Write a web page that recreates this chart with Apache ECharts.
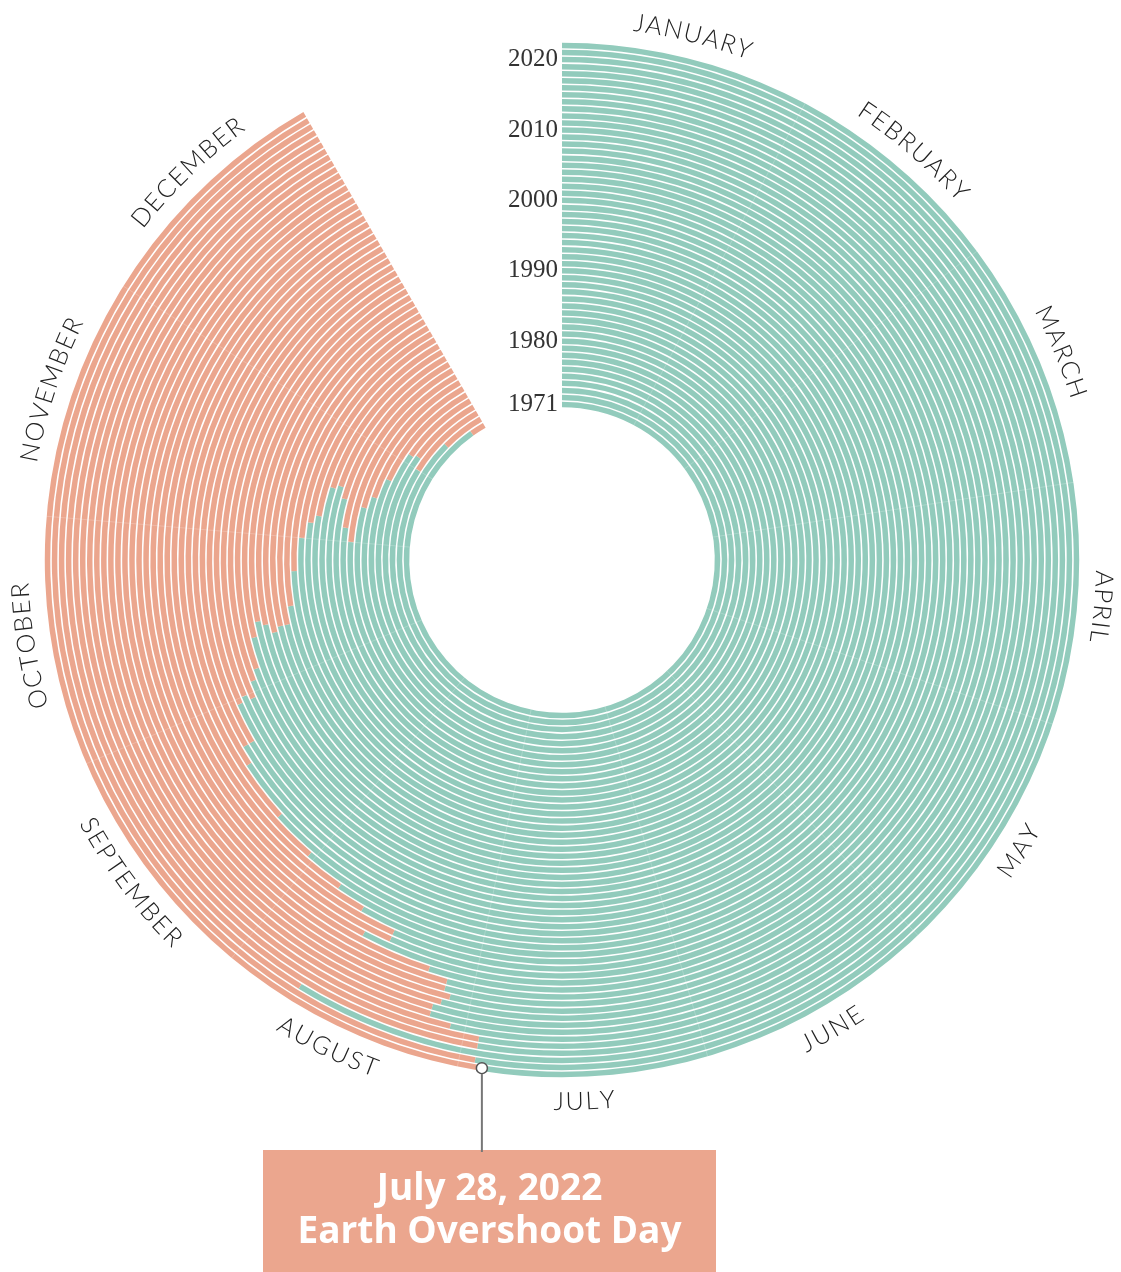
<!DOCTYPE html>
<html>
<head>
<meta charset="utf-8">
<script src="https://cdn.jsdelivr.net/npm/echarts@6/dist/echarts.min.js"></script>
<style>
html,body{margin:0;padding:0;background:#fff;}
#chart{width:1121px;height:1272px;}
</style>
</head>
<body>
<div id="chart"></div>
<script>
// ---- data ----
var years = [];
for (var y = 1971; y <= 2022; y++) years.push(String(y));
var overshootDates = [
  '12-25','12-14','11-30','12-04','12-03','11-22','11-15','11-11','10-31','11-04',
  '11-12','11-15','11-14','11-06','11-04','10-31','10-23','10-15','10-11','10-11',
  '10-10','10-12','10-13','10-10','10-04','10-02','09-29','09-30','09-29','09-22',
  '09-22','09-19','09-09','09-01','08-25','08-20','08-14','08-14','08-18','08-07',
  '08-04','08-04','08-03','08-04','08-05','08-05','08-02','07-29','07-29','08-22',
  '07-29','07-28'
];
var months = ['JANUARY','FEBRUARY','MARCH','APRIL','MAY','JUNE','JULY','AUGUST','SEPTEMBER','OCTOBER','NOVEMBER','DECEMBER'];
var monthDays = [31,28,31,30,31,30,31,31,30,31,30,31];
var yearTicks = ['1971','1980','1990','2000','2010','2020'];
var annotationYear = '2022';
var annotationText = 'July 28, 2022\nEarth Overshoot Day';

var GREEN = '#92cbbc';
var ORANGE = '#eba68e';
var YEAR_DAYS = 365;
var SWEEP = 330; // degrees used by one year

// ---- derived ----
var monthStart = [0];
for (var i = 0; i < 12; i++) monthStart.push(monthStart[i] + monthDays[i]);
function dayOfYear(s) {
  var p = s.split('-');
  return monthStart[+p[0] - 1] + (+p[1]);
}
var greenVals = overshootDates.map(dayOfYear);
var orangeVals = greenVals.map(function (d) { return YEAR_DAYS - d; });
var monthMid = months.map(function (m, i) { return [years.length - 1, monthStart[i] + monthDays[i] / 2, m]; });
var monthBounds = monthStart.slice(1, 12).map(function (d) { return [0, d]; });
var annIdx = years.indexOf(annotationYear);

var LABEL_FONT = '300 25px Lato';
var LETTER_SP = 1.8;
var measureCtx = document.createElement('canvas').getContext('2d');
measureCtx.font = LABEL_FONT;

var chart = echarts.init(document.getElementById('chart'));
var option = {
  animation: false,
  backgroundColor: '#fff',
  polar: { center: [562, 560], radius: [152, 518] },
  angleAxis: {
    type: 'value', min: 0, max: YEAR_DAYS * 360 / SWEEP, startAngle: 90, clockwise: true,
    axisLine: { show: false }, axisTick: { show: false }, axisLabel: { show: false }, splitLine: { show: false }
  },
  radiusAxis: {
    type: 'category', data: years,
    axisLine: { show: false }, axisTick: { show: false }, splitLine: { show: false },
    axisLabel: {
      interval: function (idx, val) { return yearTicks.indexOf(val) >= 0; },
      fontFamily: 'Liberation Serif', fontSize: 25, color: '#333', margin: 4
    }
  },
  series: [
    {
      type: 'bar', coordinateSystem: 'polar', stack: 'eod', data: greenVals,
      barCategoryGap: '22%', itemStyle: { color: GREEN }, silent: true
    },
    {
      type: 'bar', coordinateSystem: 'polar', stack: 'eod', data: orangeVals,
      barCategoryGap: '22%', itemStyle: { color: ORANGE }, silent: true
    },
    {
      // faint month boundary lines
      type: 'custom', coordinateSystem: 'polar', data: monthBounds, silent: true,
      encode: { radius: 0, angle: 1 },
      renderItem: function (params, api) {
        var cs = params.coordSys;
        var p = api.coord([0, api.value(1)]);
        var dx = p[0] - cs.cx, dy = p[1] - cs.cy, r = Math.sqrt(dx * dx + dy * dy);
        var ux = dx / r, uy = dy / r;
        return { type: 'line', shape: { x1: cs.cx + ux * cs.r0, y1: cs.cy + uy * cs.r0, x2: cs.cx + ux * cs.r, y2: cs.cy + uy * cs.r },
          style: { stroke: 'rgba(255,255,255,0.2)', lineWidth: 1 } };
      },
      z: 5
    },
    {
      // month labels, curved along the outer arc
      type: 'custom', coordinateSystem: 'polar', data: monthMid, silent: true,
      encode: { radius: 0, angle: 1 },
      renderItem: function (params, api) {
        var cs = params.coordSys;
        var p = api.coord([api.value(0), api.value(1)]);
        var dx = p[0] - cs.cx, dy = p[1] - cs.cy;
        var th = Math.atan2(dx, -dy); if (th < 0) th += Math.PI * 2;
        var R = cs.r + 24;
        var deg = th * 180 / Math.PI;
        var flip = deg > 100 && deg < 260;
        var txt = monthMid[params.dataIndex][2];
        var widths = [], total = 0;
        for (var k = 0; k < txt.length; k++) {
          var w = measureCtx.measureText(txt[k]).width;
          widths.push(w); total += w + (k ? LETTER_SP : 0);
        }
        var Rt = flip ? R - 0 : R;
        var dir = flip ? -1 : 1;
        var a = th - dir * (total / 2) / Rt;
        var children = [];
        for (var k2 = 0; k2 < txt.length; k2++) {
          var ac = a + dir * (widths[k2] / 2) / Rt;
          children.push({ type: 'text', x: cs.cx + Rt * Math.sin(ac), y: cs.cy - Rt * Math.cos(ac),
            rotation: flip ? Math.PI - ac : -ac,
            style: { text: txt[k2], align: 'center', verticalAlign: 'middle', font: LABEL_FONT, fill: '#222' } });
          a += dir * (widths[k2] + LETTER_SP) / Rt;
        }
        return { type: 'group', children: children };
      },
      z: 6
    },
    {
      // annotation marker
      type: 'custom', coordinateSystem: 'polar', data: [[annIdx, greenVals[annIdx]]], silent: true,
      encode: { radius: 0, angle: 1 },
      renderItem: function (params, api) {
        var p = api.coord([api.value(0), api.value(1)]);
        return { type: 'group', children: [
          { type: 'line', shape: { x1: p[0], y1: p[1] + 6, x2: p[0], y2: 1152 }, style: { stroke: '#777', lineWidth: 2 } },
          { type: 'circle', shape: { cx: p[0], cy: p[1], r: 5.5 }, style: { fill: '#fff', stroke: '#555', lineWidth: 1.5 } }
        ] };
      },
      z: 10
    }
  ],
  graphic: [
    { type: 'rect', x: 263, y: 1150, shape: { width: 453, height: 122 }, style: { fill: '#eba68e' } },
    { type: 'text', x: 489.5, y: 1211,
      style: { text: annotationText, fill: '#fff', fontFamily: 'Open Sans', fontWeight: 'bold', fontSize: 37, lineHeight: 43,
        align: 'center', verticalAlign: 'middle' } }
  ]
};
chart.setOption(option);
</script>
</body>
</html>
